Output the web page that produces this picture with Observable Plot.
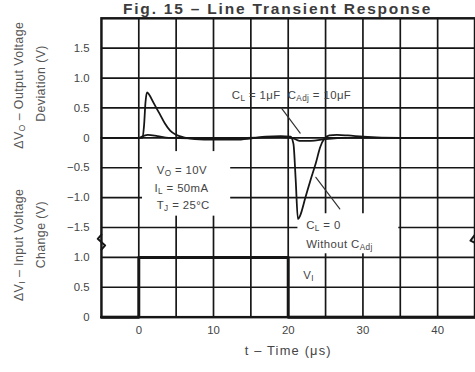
<!DOCTYPE html>
<html><head><meta charset="utf-8">
<script src="https://cdn.jsdelivr.net/npm/d3@7"></script>
<script src="https://cdn.jsdelivr.net/npm/@observablehq/plot@0.6"></script>
<style>
html,body{margin:0;padding:0;background:#fff;overflow:hidden;width:475px;height:372px;}
#wrap{position:relative;width:475px;height:372px;overflow:hidden;font-family:"Liberation Sans",Arial,sans-serif;}
#title{position:absolute;left:123px;top:1px;font-size:15.5px;font-weight:bold;color:#3c3c3c;line-height:1;white-space:nowrap;letter-spacing:1.8px;}
#chart{position:absolute;left:0;top:0;}
</style></head><body>
<div id="wrap"><div id="chart"></div><div id="title">Fig. 15 – Line Transient Response</div></div>
<script>
// ---- data (t in µs, output deviation in V) ----
const tNoCadj = [-5, 0, 0.5, 0.7, 0.9, 1.1, 1.4, 2.0, 2.8, 3.5, 4.2, 5.0, 6.0, 7.5, 10, 13, 15, 17, 19, 20.3, 20.7, 21.0, 21.3, 21.6, 22.3, 23.0, 23.7, 24.3, 24.8, 25.5, 26.5, 28, 30, 35, 45];
const vNoCadj = [0, 0, 0, 0.2, 0.6, 0.76, 0.72, 0.58, 0.40, 0.24, 0.12, 0.05, 0.01, -0.02, -0.03, -0.03, -0.01, 0.02, 0.03, 0.02, -0.1, -0.7, -1.36, -1.3, -1.0, -0.7, -0.42, -0.15, -0.02, 0.04, 0.05, 0.04, 0.02, 0.0, 0.0];
const tCadj = [-5, 0, 0.6, 1.2, 2.5, 4, 10, 19, 20.5, 21.5, 23, 25, 28, 45];
const vCadj = [0, 0, 0.03, 0.05, 0.03, 0.0, -0.01, 0.01, 0.0, -0.05, -0.05, -0.02, 0.0, 0.0];
// input voltage change (V)
const tInput = [-5, 0, 0, 20, 20, 45];
const vInput = [0, 0, 1, 1, 0, 0];
const inputPanelZero = -3; // input panel drawn below the output panel on a shared scale

const xTicks = [0, 10, 20, 30, 40];
const xTickLabels = ["0", "10", "20", "30", "40"];
const xGrid = [0, 5, 10, 15, 20, 25, 30, 35, 40];
const yTicks = [1.5, 1, 0.5, 0, -0.5, -1, -1.5, -2, -2.5, -3];
const yTickLabels = ["1.5", "1.0", "0.5", "0", "−0.5", "−1.0", "−1.5", "1.0", "0.5", "0"];
const yGrid = [1.5, 1, 0.5, 0, -0.5, -1, -1.5, -2, -2.5];

const noCadj = tNoCadj.map((t, i) => ({t, v: vNoCadj[i]}));
const cadj = tCadj.map((t, i) => ({t, v: vCadj[i]}));
const input = tInput.map((t, i) => ({t, v: vInput[i] + inputPanelZero}));

// annotations (data units)
const notes = [
  {t: 12.45, v: 0.71, s: "C{L} = 1μF  C{Adj} = 10μF"},
  {t: 2.4, v: -0.55, s: "V{O} = 10V"},
  {t: 2.1, v: -0.84, s: "I{L} = 50mA"},
  {t: 2.4, v: -1.13, s: "T{J} = 25°C"},
  {t: 22.4, v: -1.47, s: "C{L} = 0"},
  {t: 22.4, v: -1.78, s: "Without C{Adj}"},
  {t: 22.0, v: -2.30, s: "V{I}"}
];
const leaders = [
  [{t: 19.07, v: 0.50}, {t: 21.6, v: 0.08}],
  [{t: 23.7, v: -0.66}, {t: 26.9, v: -1.19}]
];
const boxes = [
  {t1: 0.5, t2: 12.3, v1: -0.23, v2: -1.31},
  {t1: 21.3, t2: 34.8, v1: -1.27, v2: -1.94}
];
const breakL = [{t: -5, v: -1.62}, {t: -5.5, v: -1.69}, {t: -4.5, v: -1.80}, {t: -5, v: -1.87}];
const breakR = [{t: 45, v: -1.62}, {t: 44.4, v: -1.72}, {t: 45.5, v: -1.79}, {t: 45, v: -1.87}];
const yLabels = [
  {s: "ΔV{O} – Output Voltage", v: 0.88, dx: -83},
  {s: "Deviation (V)", v: 0.91, dx: -61},
  {s: "ΔV{I} – Input Voltage", v: -1.79, dx: -83},
  {s: "Change (V)", v: -1.62, dx: -61}
];

const ink = "#161616";
const plot = Plot.plot({
  width: 480, height: 372,
  marginLeft: 102, marginRight: 0.5, marginTop: 18, marginBottom: 52,
  style: {fontFamily: "'Liberation Sans', Arial, sans-serif", fontSize: "11px", color: "#444", background: "transparent"},
  x: {domain: [-5, 45]},
  y: {domain: [-3, 2]},
  marks: [
    Plot.gridX(xGrid, {stroke: ink, strokeOpacity: 1, strokeWidth: 1.7}),
    Plot.gridY(yGrid, {stroke: ink, strokeOpacity: 1, strokeWidth: 1.7}),
    Plot.rect(boxes, {x1: "t1", x2: "t2", y1: "v1", y2: "v2", fill: "white"}),
    Plot.line(input, {x: "t", y: "v", stroke: ink, strokeWidth: 3}),
    Plot.line(cadj, {x: "t", y: "v", stroke: ink, strokeWidth: 1.8, curve: "monotone-x"}),
    Plot.line(noCadj, {x: "t", y: "v", stroke: ink, strokeWidth: 1.8, curve: "monotone-x"}),
    ...leaders.map(l => Plot.line(l, {x: "t", y: "v", stroke: "#333", strokeWidth: 1.2})),
    Plot.text(notes, {x: "t", y: "v", text: "s", textAnchor: "start", fill: "#444", fontSize: 11.5, className: "sub"}),
    Plot.frame({stroke: ink, strokeWidth: 2.5}),
    Plot.line(breakL, {x: "t", y: "v", stroke: ink, strokeWidth: 2}),
    Plot.line(breakR, {x: "t", y: "v", stroke: ink, strokeWidth: 2}),
    Plot.axisX(xTicks, {tickFormat: (d, i) => xTickLabels[i], tickSize: 0, tickPadding: 9, label: null, fill: "#444", fontSize: 11.5}),
    Plot.axisY(yTicks, {tickFormat: (d, i) => yTickLabels[i], tickSize: 0, tickPadding: 12, label: null, fill: "#444", fontSize: 11.5}),
    Plot.text(["t – Time (μs)"], {frameAnchor: "bottom", dy: 38, fill: "#444", fontSize: 13, className: "xlab"}),
    Plot.text(yLabels, {frameAnchor: "left", y: "v", text: "s", textAnchor: "middle", rotate: -90, fill: "#555", fontSize: 12.5, className: "sub ylab"})
  ]
});
document.getElementById("chart").appendChild(plot);

const svg = d3.select(plot);
svg.selectAll("g.ylab text").each(function(d, i) {
  const el = d3.select(this);
  const tr = el.attr("transform") || "";
  el.attr("transform", `translate(${yLabels[i].dx},0) ` + tr).attr("letter-spacing", "0.8px");
});
svg.selectAll("g.xlab text").attr("letter-spacing", "1.2px");
svg.selectAll("g.sub text").attr("letter-spacing", "0.4px").each(function() {
  const el = d3.select(this);
  const s = el.text();
  el.text(null);
  s.split(/(\{[^}]*\})/).forEach(part => {
    if (!part) return;
    if (part.startsWith("{")) {
      el.append("tspan").attr("baseline-shift", "-2.5").attr("font-size", "0.72em").text(part.slice(1, -1));
    } else {
      el.append("tspan").text(part);
    }
  });
});
</script>
</body></html>
